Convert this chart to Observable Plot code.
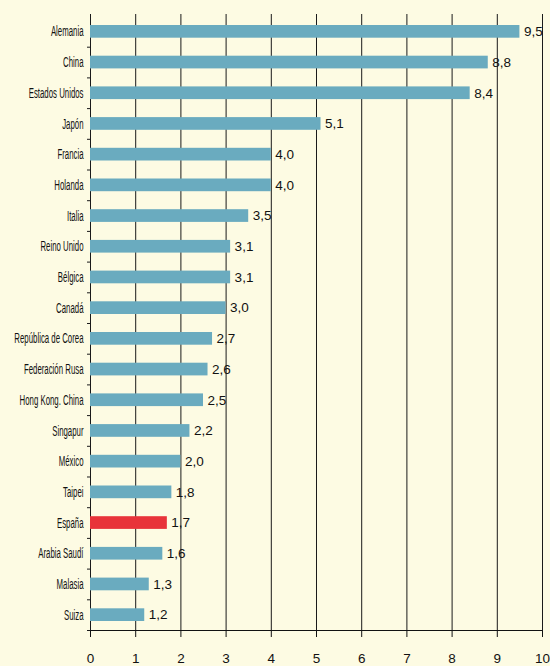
<!DOCTYPE html>
<html>
<head>
<meta charset="utf-8">
<script src="https://cdn.jsdelivr.net/npm/d3@7"></script>
<script src="https://cdn.jsdelivr.net/npm/@observablehq/plot@0.6"></script>
<style>
  html, body { margin: 0; padding: 0; background: #FDFBE3; }
  #chart { width: 550px; height: 666px; }
</style>
</head>
<body>
<div id="chart"></div>
<script>
const countries = ["Alemania", "China", "Estados Unidos", "Japón", "Francia", "Holanda", "Italia",
  "Reino Unido", "Bélgica", "Canadá", "República de Corea", "Federación Rusa", "Hong Kong. China",
  "Singapur", "México", "Taipei", "España", "Arabia Saudí", "Malasia", "Suiza"];
const values = [9.5, 8.8, 8.4, 5.1, 4.0, 4.0, 3.5, 3.1, 3.1, 3.0, 2.7, 2.6, 2.5, 2.2, 2.0, 1.8, 1.7, 1.6, 1.3, 1.2];
const highlighted = ["España"];
const xTicks = [0, 1, 2, 3, 4, 5, 6, 7, 8, 9, 10];
const gridLines = [1, 2, 3, 4, 5, 6, 7, 8, 9, 10];

const data = countries.map((c, i) => ({country: c, value: values[i], hl: highlighted.includes(c)}));
const fmt = v => v.toFixed(1).replace(".", ",");

const svg = Plot.plot({
  width: 550,
  height: 666,
  marginLeft: 90,
  marginRight: 8,
  marginTop: 14,
  marginBottom: 36,
  style: {background: "#FDFBE3", fontFamily: "'Liberation Sans', Arial, sans-serif", fontSize: "13px", color: "#111"},
  x: {domain: [0, 10], ticks: xTicks, tickSize: 7, tickPadding: 16, line: true, label: null, tickFormat: d => String(d)},
  y: {domain: countries, padding: 0, round: false, range: [16, 630], tickSize: 0, tickPadding: 7, line: true, label: null},
  marks: [
    Plot.ruleX(gridLines, {stroke: "#1a1a1a", strokeWidth: 1}),
    Plot.ruleX([0], {stroke: "#1a1a1a", strokeWidth: 1}),
    Plot.barX(data, {y: "country", x: "value", insetTop: 9, insetBottom: 9, fill: d => d.hl ? "#E8333A" : "#6AABBF"}),
    Plot.ruleY(countries, {y: d => d, x1: 0, x2: 0, insetLeft: -3, dy: 15.35, stroke: "#1a1a1a"}),
    Plot.text(data, {y: "country", x: "value", text: d => fmt(d.value), textAnchor: "start", dx: 4, fill: "#111", fontSize: 13.5})
  ]
});

// Condense the category labels horizontally like the original
svg.querySelectorAll('g[aria-label^="y-axis"] text').forEach(t => {
  const x = parseFloat(t.getAttribute("x")) || 0;
  const y = parseFloat(t.getAttribute("y")) || 0;
  const tr = t.getAttribute("transform") || "";
  t.setAttribute("font-size", "14.5");
  t.style.fontSize = "14.5px";
  t.setAttribute("transform", `${tr} translate(${x},${y}) scale(0.54,1) translate(${-x},${-y})`);
});
svg.querySelectorAll('g[aria-label^="x-axis"] text').forEach(t => {
  t.style.fontSize = "13.5px";
});

document.getElementById("chart").appendChild(svg);
</script>
</body>
</html>
